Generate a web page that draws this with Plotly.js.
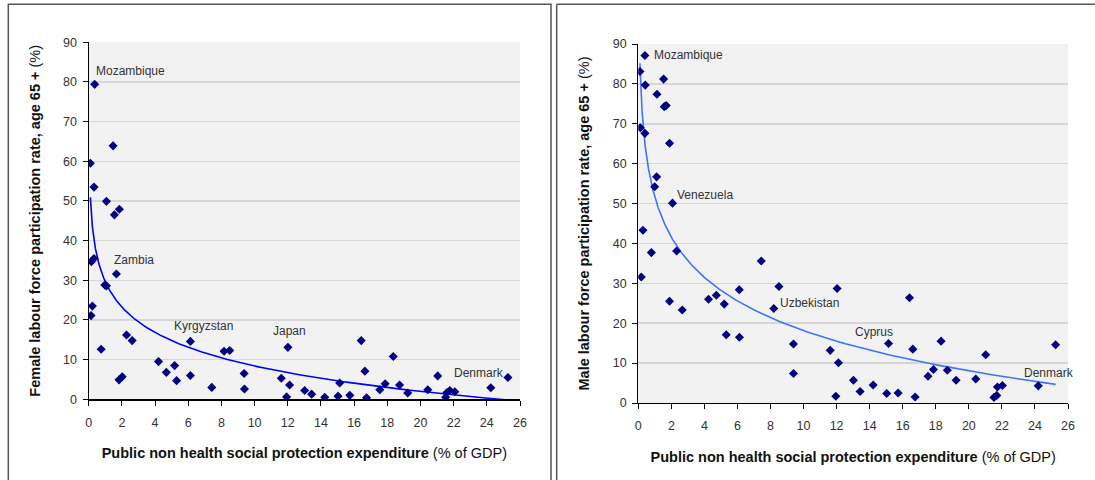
<!DOCTYPE html>
<html>
<head>
<meta charset="utf-8">
<script src="https://cdn.plot.ly/plotly-3.0.1.min.js"></script>
<style>
  html, body { margin: 0; padding: 0; background: #ffffff; }
  #chart { width: 1095px; height: 480px; }
</style>
</head>
<body>
<div id="chart"></div>
<script>
// ---- Data ----
// Left panel: female labour force participation (age 65+) vs public non-health social protection expenditure
var femaleX = [0.10, 0.14, 0.16, 0.22, 0.32, 0.32, 0.36, 0.75, 0.97, 1.07, 1.07, 1.47, 1.55, 1.67, 1.83, 1.85, 2.02, 2.28, 2.62,
               4.21, 4.68, 5.18, 5.30, 6.13, 6.13, 7.42, 8.16, 8.50, 9.37, 9.39,
               11.61, 11.93, 12.01, 12.11, 13.02, 13.44, 14.23, 15.03, 15.13, 15.74,
               16.43, 16.65, 16.75, 17.55, 17.87, 18.36, 18.74, 19.23, 20.44, 21.04,
               21.52, 21.60, 21.77, 22.07, 24.24, 25.27];
var femaleY = [59.5, 21.1, 34.7, 23.5, 53.5, 35.5, 79.4, 12.6, 28.8, 49.9, 28.6, 63.9, 46.5, 31.6, 4.9, 47.9, 5.7, 16.2, 14.8,
               9.5, 6.8, 8.5, 4.7, 14.6, 6.0, 3.0, 12.1, 12.3, 6.5, 2.6,
               5.3, 0.6, 13.1, 3.6, 2.2, 1.3, 0.5, 0.8, 4.1, 1.0,
               14.8, 7.1, 0.4, 2.4, 3.9, 10.8, 3.6, 1.6, 2.4, 5.9,
               0.5, 1.7, 2.2, 1.9, 2.9, 5.5];

// Right panel: male labour force participation (age 65+)
var maleX = [0.10, 0.12, 0.18, 0.28, 0.40, 0.40, 0.42, 0.79, 0.99, 1.11, 1.13, 1.53, 1.57, 1.69, 1.89, 1.89, 2.07, 2.32, 2.66,
             4.25, 4.72, 5.20, 5.32, 6.11, 6.12, 7.44, 8.20, 8.51, 9.39, 9.39,
             11.61, 11.95, 12.03, 12.11, 13.02, 13.42, 14.21, 15.03, 15.14, 15.72,
             16.41, 16.61, 16.75, 17.53, 17.86, 18.32, 18.70, 19.23, 20.42, 21.02,
             21.52, 21.69, 21.73, 22.03, 24.20, 25.25];
var maleY = [83.1, 69.0, 31.6, 43.3, 87.1, 67.6, 79.7, 37.7, 54.2, 56.7, 77.4, 81.2, 74.3, 74.6, 65.1, 25.5, 50.1, 38.1, 23.3,
             26.0, 27.0, 24.8, 17.1, 28.4, 16.5, 35.6, 23.7, 29.2, 14.8, 7.4,
             13.2, 1.7, 28.7, 10.1, 5.7, 2.9, 4.5, 2.4, 14.9, 2.5,
             26.4, 13.5, 1.5, 6.7, 8.4, 15.5, 8.2, 5.7, 6.0, 12.1,
             1.4, 1.9, 4.0, 4.4, 4.3, 14.6];

// Country labels
var femaleLabels  = ['Mozambique', 'Zambia', 'Kyrgyzstan', 'Japan', 'Denmark'];
var femaleLabelX  = [0.32, 1.41, 5.02, 10.99, 21.92];
var femaleLabelY  = [82.8, 35.1, 18.6, 17.2, 6.7];
var maleLabels    = ['Mozambique', 'Venezuela', 'Uzbekistan', 'Cyprus', 'Denmark'];
var maleLabelX    = [0.85, 2.24, 8.45, 12.97, 23.23];
var maleLabelY    = [87.2, 52.2, 25.1, 17.7, 7.6];

// Axis ticks
var xTicks = [0, 2, 4, 6, 8, 10, 12, 14, 16, 18, 20, 22, 24, 26];
var yTicks = [0, 10, 20, 30, 40, 50, 60, 70, 80, 90];

// Logarithmic least-squares trend line (like a spreadsheet log trendline)
function logTrend(xs, ys, n) {
  var m = xs.length, sx = 0, sy = 0, sxx = 0, sxy = 0;
  for (var i = 0; i < m; i++) {
    var lx = Math.log(xs[i]);
    sx += lx; sy += ys[i]; sxx += lx * lx; sxy += lx * ys[i];
  }
  var b = (m * sxy - sx * sy) / (m * sxx - sx * sx);
  var a = (sy - b * sx) / m;
  var xmin = Math.min.apply(null, xs), xmax = Math.max.apply(null, xs);
  var tx = [], ty = [];
  for (var k = 0; k <= n; k++) {
    var x = Math.exp(Math.log(xmin) + (Math.log(xmax) - Math.log(xmin)) * k / n);
    tx.push(x); ty.push(a + b * Math.log(x));
  }
  return {x: tx, y: ty};
}
var fTrend = logTrend(femaleX, femaleY, 300);
var mTrend = logTrend(maleX, maleY, 300);

var W = 1095, H = 480;
function px(v) { return v / W; }
function py(v) { return 1 - v / H; }

var markerStyle = {symbol: 'diamond', size: 7, color: '#000080'};

var traces = [
  {x: fTrend.x, y: fTrend.y, mode: 'lines', line: {color: '#0000ff', width: 1.6}, xaxis: 'x', yaxis: 'y', hoverinfo: 'skip', showlegend: false},
  {x: femaleX, y: femaleY, mode: 'markers', marker: markerStyle, xaxis: 'x', yaxis: 'y', showlegend: false},
  {x: mTrend.x, y: mTrend.y, mode: 'lines', line: {color: '#3f73ff', width: 1.6}, xaxis: 'x2', yaxis: 'y2', hoverinfo: 'skip', showlegend: false},
  {x: maleX, y: maleY, mode: 'markers', marker: markerStyle, xaxis: 'x2', yaxis: 'y2', showlegend: false}
];

var sans = '"Liberation Sans", Arial, sans-serif';
var tickFont = {family: sans, size: 12.5, color: '#333333'};
var titleFont = {family: sans, size: 14.5, color: '#111111'};

function xAxis(domain, anchor) {
  return {
    domain: domain, anchor: anchor, range: [0, 26], tickvals: xTicks, ticktext: xTicks.map(String),
    showgrid: false, zeroline: false, showline: true, linecolor: '#000000', linewidth: 1.2,
    ticks: 'outside', ticklen: 5, tickcolor: '#000000', tickwidth: 1, tickfont: tickFont,
    ticklabelstandoff: 6, fixedrange: true,
    title: {text: '<b>Public non health social protection expenditure</b> (% of GDP)', font: titleFont, standoff: 19}
  };
}
function yAxis(domain, anchor, label) {
  return {
    domain: domain, anchor: anchor, range: [0, 90], tickvals: yTicks, ticktext: yTicks.map(String),
    showgrid: true, gridcolor: '#d6d6d6', gridwidth: 1.5, zeroline: false,
    showline: true, linecolor: '#000000', linewidth: 1.2,
    ticks: 'outside', ticklen: 5, tickcolor: '#000000', tickwidth: 1, tickfont: tickFont,
    ticklabelstandoff: 3, fixedrange: true,
    title: {text: '<b>' + label + '</b> (%)', font: titleFont, standoff: 19}
  };
}

var annotations = [];
var labelFont = {family: sans, size: 12, color: '#333333'};
femaleLabels.forEach(function (t, i) {
  annotations.push({x: femaleLabelX[i], y: femaleLabelY[i], xref: 'x', yref: 'y', text: t, showarrow: false,
    xanchor: 'left', yanchor: 'middle', font: labelFont});
});
maleLabels.forEach(function (t, i) {
  annotations.push({x: maleLabelX[i], y: maleLabelY[i], xref: 'x2', yref: 'y2', text: t, showarrow: false,
    xanchor: 'left', yanchor: 'middle', font: labelFont});
});

var frame = {color: '#555555', width: 1.5};
var shapes = [
  {type: 'rect', xref: 'paper', yref: 'paper', x0: px(8.3), x1: px(551), y0: py(520), y1: py(4.3), line: frame, layer: 'below'},
  {type: 'line', xref: 'paper', yref: 'paper', x0: px(556.7), x1: px(1100), y0: py(4.3), y1: py(4.3), line: frame},
  {type: 'line', xref: 'paper', yref: 'paper', x0: px(556.7), x1: px(556.7), y0: py(4.3), y1: py(520), line: frame}
];

var layout = {
  width: W, height: H,
  margin: {l: 0, r: 0, t: 0, b: 0},
  paper_bgcolor: '#ffffff', plot_bgcolor: '#f2f2f2',
  showlegend: false,
  xaxis: xAxis([px(88.7), px(520)], 'y'),
  yaxis: yAxis([py(399.3), py(42.3)], 'x', 'Female labour force participation rate, age 65 +'),
  xaxis2: xAxis([px(638.3), px(1068)], 'y2'),
  yaxis2: yAxis([py(403), py(44)], 'x2', 'Male labour force participation rate, age 65 +'),
  annotations: annotations,
  shapes: shapes,
  hovermode: 'closest'
};

Plotly.newPlot('chart', traces, layout, {displayModeBar: false, staticPlot: true});
</script>
</body>
</html>
